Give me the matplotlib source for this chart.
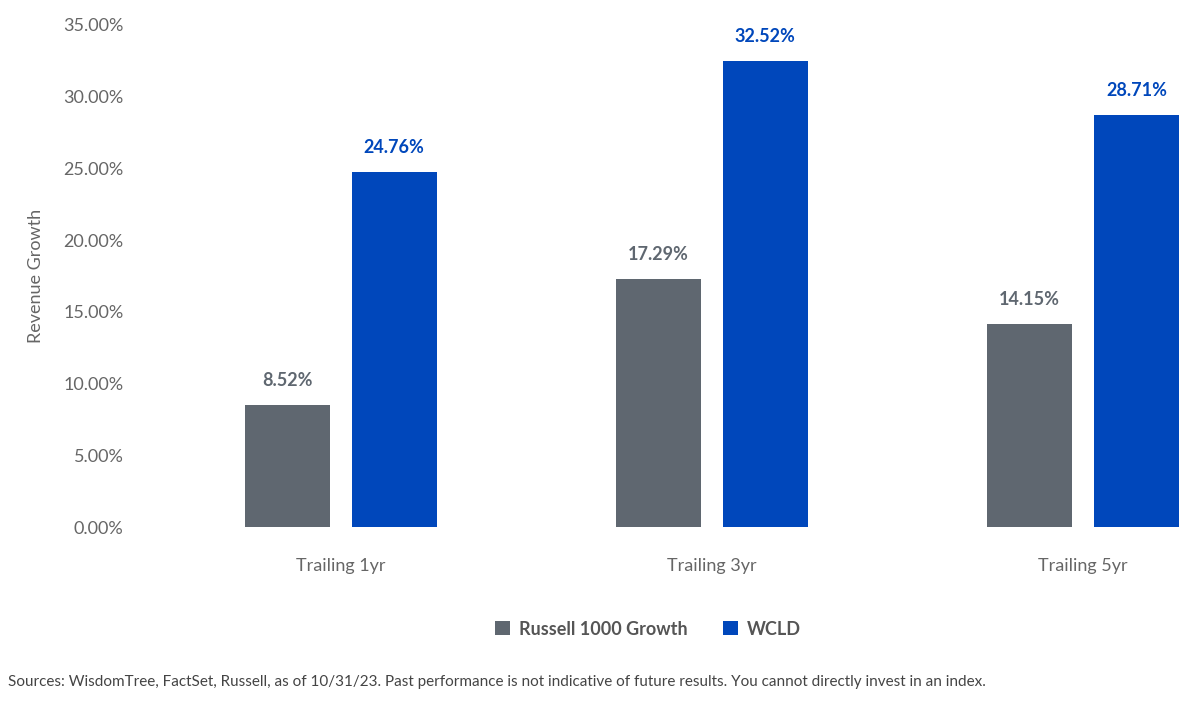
import matplotlib
matplotlib.use("Agg")
import matplotlib.pyplot as plt
import numpy as np

plt.rcParams['font.family'] = ['Lato', 'DejaVu Sans']

categories = ["Trailing 1yr", "Trailing 3yr", "Trailing 5yr"]
russell = [8.52, 17.29, 14.15]
wcld = [24.76, 32.52, 28.71]
yticks = [0, 5, 10, 15, 20, 25, 30, 35]

GRAY = "#5f6770"
BLUE = "#0047bb"
TXT = "#666666"

fig = plt.figure(figsize=(12, 7.06), dpi=100)
ax = fig.add_axes([0.117, 0.2535, 0.866, 0.7111])

x = np.arange(len(categories))
w = 0.228
off = 0.144
ax.bar(x - off, russell, w, color=GRAY, label="Russell 1000 Growth")
ax.bar(x + off, wcld, w, color=BLUE, label="WCLD")

for xi, v in zip(x, russell):
    ax.text(xi - off, v + 1.1, f"{v:.2f}%", ha="center", va="bottom",
            color=GRAY, fontsize=13, fontweight="bold")
for xi, v in zip(x, wcld):
    ax.text(xi + off, v + 1.1, f"{v:.2f}%", ha="center", va="bottom",
            color=BLUE, fontsize=13, fontweight="bold")

ax.set_ylim(0, 35)
ax.set_xlim(-0.54, 2.26)
ax.set_yticks(yticks)
ax.set_yticklabels([f"{t:.2f}%" for t in yticks])
ax.set_xticks(x)
ax.set_xticklabels(categories)
ax.tick_params(axis="both", length=0, colors=TXT, labelsize=13)
ax.tick_params(axis="x", pad=22)
ax.tick_params(axis="y", pad=12)
for s in ax.spines.values():
    s.set_visible(False)
ax.set_ylabel("Revenue Growth", color=TXT, fontsize=13, labelpad=14)

leg = fig.legend(loc="center", bbox_to_anchor=(0.54, 0.109), ncol=2, frameon=False,
                 fontsize=13, handlelength=0.8, handleheight=0.8, columnspacing=2.0,
                 handletextpad=0.5)
for t in leg.get_texts():
    t.set_color("#555555")
    t.set_fontweight("bold")

fig.text(0.007, 0.028, "Sources: WisdomTree, FactSet, Russell, as of 10/31/23. Past performance is not indicative of future results. You cannot directly invest in an index.",
         fontsize=11, color="#444444")

fig.savefig("out.png", dpi=100)
